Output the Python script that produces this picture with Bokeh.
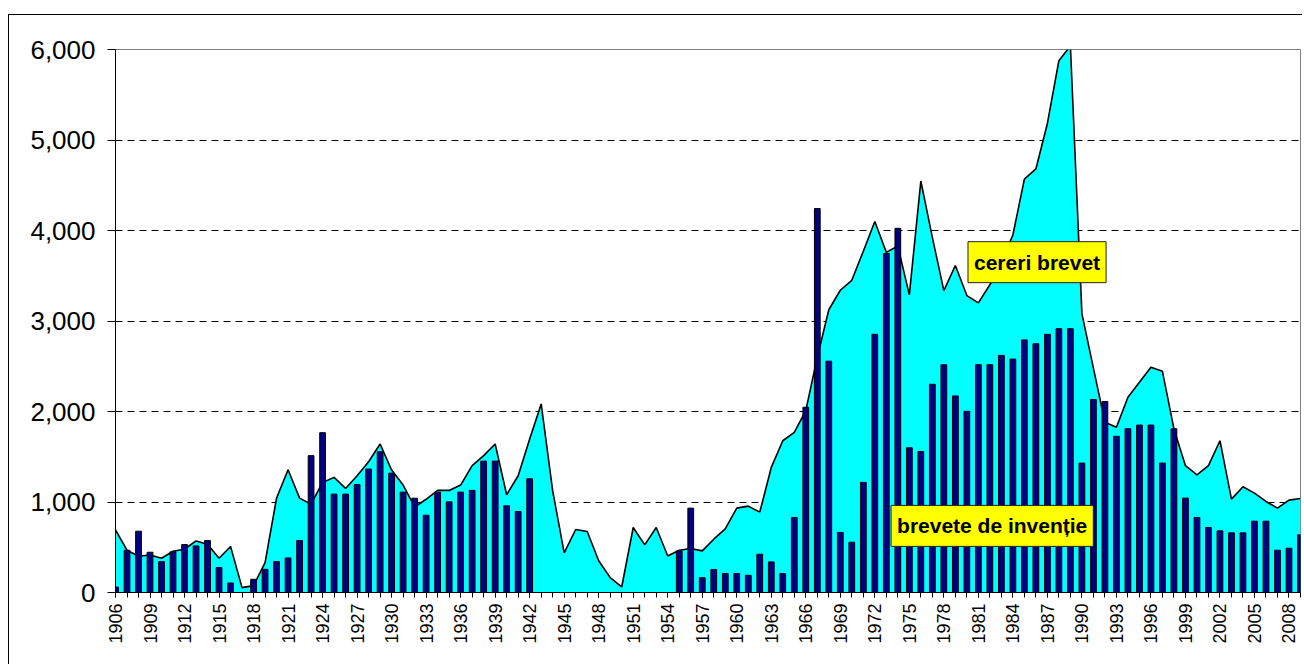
import math
from bokeh.plotting import figure
from bokeh.models import Range1d, FixedTicker, NumeralTickFormatter, Label, Spacer, ColumnDataSource
from bokeh.layouts import column, row
from bokeh.embed import file_html
from bokeh.resources import INLINE

years = list(range(1906, 2010))

cereri_brevet = [
    692, 467, 400, 415, 378, 456, 478, 570, 534, 378,      # 1906-1915
    508, 54, 76, 331, 1043, 1357, 1043, 976, 1216, 1272,   # 1916-1925
    1150, 1290, 1445, 1641, 1353, 1187, 945, 1030, 1128, 1128,  # 1926-1935
    1187, 1401, 1512, 1641, 1080, 1290, 1697, 2084, 1124, 437,  # 1936-1945
    696, 674, 350, 164, 61, 718, 526, 718, 404, 467,       # 1946-1955
    486, 460, 589, 703, 932, 954, 888, 1382, 1677, 1770,   # 1956-1965
    2010, 2600, 3124, 3340, 3450, 3771, 4099, 3758, 3829, 3289,  # 1966-1975
    4547, 3924, 3335, 3613, 3281, 3200, 3400, 3650, 3950, 4568,  # 1976-1985
    4680, 5183, 5876, 6040, 3081, 2480, 1881, 1826, 2158, 2324,  # 1986-1995
    2490, 2444, 1807, 1401, 1301, 1401, 1677, 1032, 1168, 1098,  # 1996-2005
    1006, 932, 1021, 1039,                                  # 2006-2009
]

brevete_inventie = [
    60, 467, 677, 445, 341, 449, 530, 515, 574, 275,       # 1906-1915
    105, 0, 146, 256, 341, 382, 574, 1512, 1766, 1087,     # 1916-1925
    1087, 1194, 1364, 1555, 1319, 1109, 1042, 854, 1109, 1002,  # 1926-1935
    1109, 1128, 1452, 1452, 958, 895, 1257, 0, 0, 0,       # 1936-1945
    0, 0, 0, 0, 0, 0, 0, 0, 0, 460,                        # 1946-1955
    932, 164, 253, 209, 209, 190, 423, 338, 209, 829,      # 1956-1965
    2047, 4243, 2556, 664, 556, 1217, 2853, 3746, 4024, 1599,  # 1966-1975
    1557, 2301, 2517, 2172, 2002, 2517, 2517, 2620, 2579, 2791,  # 1976-1985
    2749, 2853, 2915, 2915, 1430, 2132, 2110, 1726, 1809, 1850,  # 1986-1995
    1850, 1430, 1809, 1043, 829, 718, 681, 659, 659, 788,  # 1996-2005
    788, 467, 489, 637,                                    # 2006-2009
]

x_label_years = list(range(1906, 2010, 3))
y_ticks = [0, 1000, 2000, 3000, 4000, 5000, 6000]

label_area = "cereri brevet"
label_bars = "brevete de invenție"

FONT = "Liberation Sans"

p = figure(width=1294, height=650, output_backend="svg", toolbar_location=None,
           x_range=Range1d(1906, 2009), y_range=Range1d(0, 6000),
           min_border_left=106, min_border_top=34, min_border_right=3, min_border_bottom=73)
p.styles = {"border-top": "1px solid black", "border-left": "1px solid black"}
p.background_fill_color = "white"
p.border_fill_color = "white"
p.outline_line_color = "#808080"
p.outline_line_width = 1

# area series
p.varea(x=years, y1=[0] * len(years), y2=cereri_brevet, fill_color="#00FFFF", fill_alpha=1.0)
p.line(x=years, y=cereri_brevet, line_color="black", line_width=1.6)

# bars
bx = [y for y, v in zip(years, brevete_inventie) if v > 0]
bt = [v for v in brevete_inventie if v > 0]
src = ColumnDataSource(dict(x=bx, top=bt))
p.vbar(x="x", top="top", width=0.5, bottom=0, source=src,
       fill_color="#000080", line_color="black", line_width=1)

# grid
p.xgrid.visible = False
p.ygrid.grid_line_color = "black"
p.ygrid.grid_line_dash = "7 5"
p.ygrid.grid_line_width = 1

# axes
p.yaxis.ticker = FixedTicker(ticks=y_ticks)
p.yaxis.formatter = NumeralTickFormatter(format="0,0")
p.yaxis.major_label_text_font = FONT
p.yaxis.major_label_text_font_size = "26px"
p.yaxis.major_label_text_color = "black"
p.yaxis.major_tick_out = 8
p.yaxis.major_tick_in = 0
p.yaxis.minor_tick_line_color = None
p.yaxis.axis_line_color = "black"
p.yaxis.major_tick_line_color = "black"
p.yaxis.major_label_standoff = 12

p.xaxis.ticker = FixedTicker(ticks=x_label_years, minor_ticks=years)
p.xaxis.major_label_orientation = math.pi / 2
p.xaxis.major_label_text_font = FONT
p.xaxis.major_label_text_font_size = "18px"
p.xaxis.major_label_text_color = "black"
p.xaxis.major_tick_out = 5
p.xaxis.major_tick_in = 0
p.xaxis.minor_tick_out = 5
p.xaxis.minor_tick_in = 0
p.xaxis.axis_line_color = "black"
p.xaxis.major_tick_line_color = "black"
p.xaxis.minor_tick_line_color = "black"
p.xaxis.major_label_standoff = 6

# series labels
for txt, lx, ly in [(label_area, 1986.1, 3650), (label_bars, 1982.2, 736)]:
    p.add_layout(Label(x=lx, y=ly, text=txt, text_align="center", text_baseline="middle",
                       text_font=FONT, text_font_size="21px", text_font_style="bold",
                       text_color="black", background_fill_color="#FFFF00",
                       border_line_color="#222222", border_line_width=1,
                       padding=dict(left=6, right=6, top=9, bottom=9)))

layout = column(Spacer(width=10, height=14), row(Spacer(width=8, height=10), p))
open("out.html", "w").write(file_html(layout, INLINE))
